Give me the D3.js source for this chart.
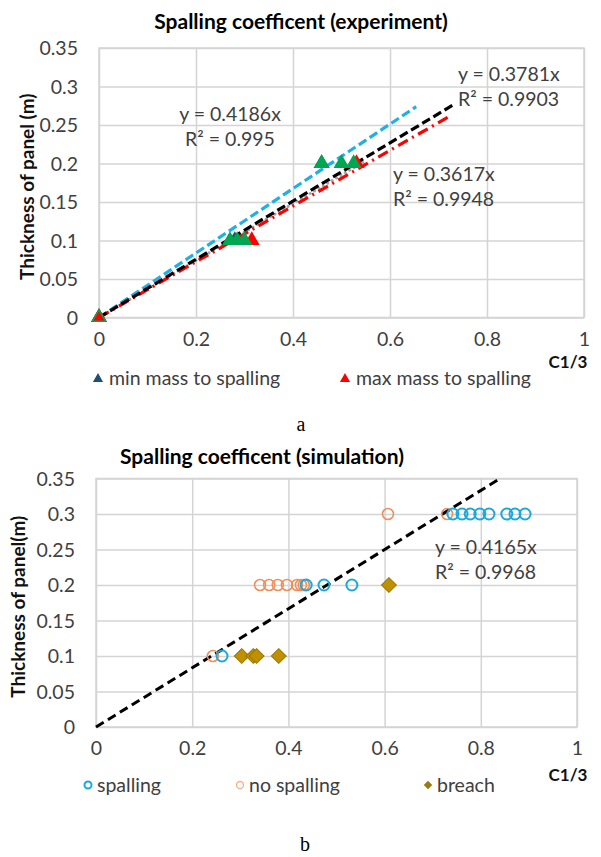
<!DOCTYPE html>
<html><head><meta charset="utf-8">
<script src="https://cdn.jsdelivr.net/npm/d3@7"></script>
<style>
body{margin:0;background:#fff;}
svg text{font-family:Lato,"Open Sans",sans-serif;fill:#404040;}
</style></head>
<body><svg id="c" width="601" height="857"></svg>
<script>
// ---------- shared ticks ----------
const xTicks = [0, 0.2, 0.4, 0.6, 0.8, 1];
const xTickLabels = ["0", "0.2", "0.4", "0.6", "0.8", "1"];
const yTicks = [0, 0.05, 0.1, 0.15, 0.2, 0.25, 0.3, 0.35];
const yTickLabels = ["0", "0.05", "0.1", "0.15", "0.2", "0.25", "0.3", "0.35"];

// ---------- (a) experiment ----------
const expMinMass = [[0, 0], [0.28, 0.1], [0.459, 0.2]];
const expMaxMass = [[0, 0], [0.315, 0.1], [0.531, 0.2]];
const expOther = [[0, 0], [0.27, 0.1], [0.285, 0.1], [0.30, 0.1], [0.459, 0.2], [0.50, 0.2], [0.525, 0.2]];
const expTrendSlopes = [0.4186, 0.3781, 0.3617, 0.37];
const expTrendEnds = [0.654, 0.73, 0.72, 0.55];
const expLabels = [
  ["y = 0.4186x", "R² = 0.995"],
  ["y = 0.3781x", "R² = 0.9903"],
  ["y = 0.3617x", "R² = 0.9948"]
];
const expLegend = ["min mass to spalling", "max mass to spalling"];

// ---------- (b) simulation ----------
const simSpalling = [[0.262, 0.1], [0.437, 0.2], [0.474, 0.2], [0.532, 0.2],
  [0.742, 0.3], [0.761, 0.3], [0.778, 0.3], [0.798, 0.3], [0.817, 0.3], [0.854, 0.3], [0.871, 0.3], [0.892, 0.3]];
const simNoSpalling = [[0.243, 0.1], [0.341, 0.2], [0.360, 0.2], [0.378, 0.2], [0.397, 0.2], [0.418, 0.2], [0.426, 0.2], [0.432, 0.2],
  [0.607, 0.3], [0.730, 0.3]];
const simBreach = [[0.303, 0.1], [0.327, 0.1], [0.334, 0.1], [0.380, 0.1], [0.609, 0.2]];
const simTrendSlope = 0.4165;
const simTrendEnd = 0.84;
const simLabel = ["y = 0.4165x", "R² = 0.9968"];
const simLegend = ["spalling", "no spalling", "breach"];

const svg = d3.select("#c");
const GRID = "#d4d4d4";
const FS = 19.5;

function frame(g, x, y, title, tx, ty, ylab, ylx, tickDy) {
  const [x0, x1] = x.range(), [y0, y1] = y.range();
  g.append("g").attr("transform", `translate(0,${y0})`)
    .call(d3.axisBottom(x).tickValues(xTicks).tickSize(-(y0 - y1)).tickFormat(""))
    .call(a => a.select(".domain").remove())
    .call(a => a.selectAll("line").attr("stroke", GRID).attr("stroke-width", 1.5));
  g.append("g").attr("transform", `translate(${x0},0)`)
    .call(d3.axisLeft(y).tickValues(yTicks).tickSize(-(x1 - x0)).tickFormat(""))
    .call(a => a.select(".domain").remove())
    .call(a => a.selectAll("line").attr("stroke", GRID).attr("stroke-width", 1.5));
  g.append("rect").attr("x", x0).attr("y", y1).attr("width", x1 - x0).attr("height", y0 - y1)
    .attr("fill", "none").attr("stroke", GRID).attr("stroke-width", 1.5);
  g.append("g").attr("transform", `translate(0,${y0 + tickDy})`)
    .call(d3.axisBottom(x).tickValues(xTicks).tickSize(0).tickFormat((d, i) => xTickLabels[i]))
    .call(a => a.select(".domain").remove())
    .call(a => a.selectAll("text").attr("font-size", FS).attr("fill", "#404040").attr("dy", "0.35em").attr("y", 0)
      .style("font-family", "Lato"));
  g.append("g").attr("transform", `translate(${x0 - 21},0)`)
    .call(d3.axisLeft(y).tickValues(yTicks).tickSize(0).tickFormat((d, i) => yTickLabels[i]))
    .call(a => a.select(".domain").remove())
    .call(a => a.selectAll("text").attr("font-size", FS).attr("fill", "#404040").attr("x", 0).attr("dy", "0.35em")
      .style("font-family", "Lato"));
  g.append("text").attr("x", tx).attr("y", ty).attr("text-anchor", "middle")
    .attr("font-size", 21).attr("font-weight", "bold").style("fill", "#000").text(title);
  g.append("text").attr("transform", `translate(${ylx},${(y0 + y1) / 2 + 4}) rotate(-90)`)
    .attr("text-anchor", "middle").attr("dy", "0.35em").attr("font-size", 19).attr("font-weight", "bold")
    .style("fill", "#111").text(ylab);
}

// ================= chart a =================
{
  const x = d3.scaleLinear().domain([0, 1]).range([99, 584]);
  const y = d3.scaleLinear().domain([0, 0.35]).range([317.5, 48]);
  const g = svg.append("g");
  frame(g, x, y, "Spalling coefficent (experiment)", 301, 29, "Thickness of panel (m)", 27, 22);

  const styles = [
    {c: "#1fb0e6", dash: "9,4", w: 3.2, cap: "butt"},
    {c: "#000", dash: "9,4", w: 3.2, cap: "butt"},
    {c: "#ff0000", dash: "11,5,2,5", w: 3.2, cap: "butt"},
    {c: "#a6a6a6", dash: "0.1,5", w: 3, cap: "round"}
  ];
  [3, 0, 2, 1].forEach(i => {
    g.append("line").attr("x1", x(0)).attr("y1", y(0))
      .attr("x2", x(expTrendEnds[i])).attr("y2", y(expTrendEnds[i] * expTrendSlopes[i]))
      .attr("stroke", styles[i].c).attr("stroke-width", styles[i].w)
      .attr("stroke-dasharray", styles[i].dash).attr("stroke-linecap", styles[i].cap);
  });
  const tri = d3.symbol(d3.symbolTriangle, 110);
  const drawTri = (data, col) => g.append("g").selectAll("path").data(data).join("path")
    .attr("d", tri).attr("transform", d => `translate(${x(d[0])},${y(d[1])})`).attr("fill", col);
  drawTri(expMinMass, "#1f4e79");
  drawTri(expMaxMass, "#ff0000");
  drawTri(expOther, "#00a651");
  drawTri([expMaxMass[0]], "#ff0000").attr("d", d3.symbol(d3.symbolTriangle, 50));

  const lab = [[230, 121, "middle"], [458, 81, "start"], [393, 181, "start"]];
  expLabels.forEach((l, i) => {
    const t = g.append("text").attr("text-anchor", lab[i][2]).attr("font-size", FS);
    l.forEach((s, j) => t.append("tspan").attr("x", lab[i][0]).attr("y", lab[i][1] + j * 25).text(s));
  });
  const lt = d3.symbol(d3.symbolTriangle, 45);
  const legCols = ["#1f4e79", "#ff0000"];
  const legX = [98, 345];
  expLegend.forEach((s, i) => {
    g.append("path").attr("d", lt).attr("transform", `translate(${legX[i]},${379})`).attr("fill", legCols[i]);
    g.append("text").attr("x", legX[i] + 11).attr("y", 378).attr("dy", "0.35em").attr("font-size", FS).text(s);
  });
  g.append("text").attr("x", 568).attr("y", 362).attr("dy", "0.35em").attr("text-anchor", "middle")
    .attr("font-size", 17).attr("font-weight", "bold").style("fill", "#111").text("C1/3");
  svg.append("text").attr("x", 301).attr("y", 431).attr("text-anchor", "middle")
    .style("font-family", "'Liberation Serif',serif").style("fill", "#000").attr("font-size", 20).text("a");
}

// ================= chart b =================
{
  const x = d3.scaleLinear().domain([0, 1]).range([96, 577]);
  const y = d3.scaleLinear().domain([0, 0.35]).range([727, 478.5]);
  const g = svg.append("g");
  frame(g, x, y, "Spalling coefficent (simulation)", 262, 464, "Thickness of panel(m)", 18, 21);

  g.append("line").attr("x1", x(0)).attr("y1", y(0))
    .attr("x2", x(simTrendEnd)).attr("y2", y(simTrendEnd * simTrendSlope))
    .attr("stroke", "#000").attr("stroke-width", 3).attr("stroke-dasharray", "9,5");

  g.append("g").selectAll("path").data(simBreach).join("path")
    .attr("d", d3.symbol(d3.symbolSquare, 110))
    .attr("transform", d => `translate(${x(d[0])},${y(d[1])}) rotate(45)`)
    .attr("fill", "#bf9000").attr("stroke", "#9c7600").attr("stroke-width", 1);
  g.append("g").selectAll("circle").data(simNoSpalling).join("circle")
    .attr("cx", d => x(d[0])).attr("cy", d => y(d[1])).attr("r", 5.5)
    .attr("fill", "none").attr("stroke", "#ef8f5a").attr("stroke-width", 1.6);
  g.append("g").selectAll("circle").data(simSpalling).join("circle")
    .attr("cx", d => x(d[0])).attr("cy", d => y(d[1])).attr("r", 5.5)
    .attr("fill", "none").attr("stroke", "#1aa9dc").attr("stroke-width", 2);

  const t = g.append("text").attr("text-anchor", "start").attr("font-size", FS);
  simLabel.forEach((s, j) => t.append("tspan").attr("x", 435).attr("y", 554 + j * 25).text(s));

  const legX = [88, 240, 428];
  g.append("circle").attr("cx", legX[0]).attr("cy", 785).attr("r", 3.5).attr("fill", "none").attr("stroke", "#1aa9dc").attr("stroke-width", 2);
  g.append("circle").attr("cx", legX[1]).attr("cy", 785).attr("r", 3.5).attr("fill", "none").attr("stroke", "#f4b183").attr("stroke-width", 1.3);
  g.append("path").attr("d", d3.symbol(d3.symbolSquare, 36)).attr("transform", `translate(${legX[2]},785) rotate(45)`).attr("fill", "#9c7a10");
  simLegend.forEach((s, i) => {
    g.append("text").attr("x", legX[i] + 9).attr("y", 785).attr("dy", "0.35em").attr("font-size", FS).text(s);
  });
  g.append("text").attr("x", 568).attr("y", 775).attr("dy", "0.35em").attr("text-anchor", "middle")
    .attr("font-size", 17).attr("font-weight", "bold").style("fill", "#111").text("C1/3");
  svg.append("text").attr("x", 305).attr("y", 851).attr("text-anchor", "middle")
    .style("font-family", "'Liberation Serif',serif").style("fill", "#000").attr("font-size", 20).text("b");
}
</script></body></html>
